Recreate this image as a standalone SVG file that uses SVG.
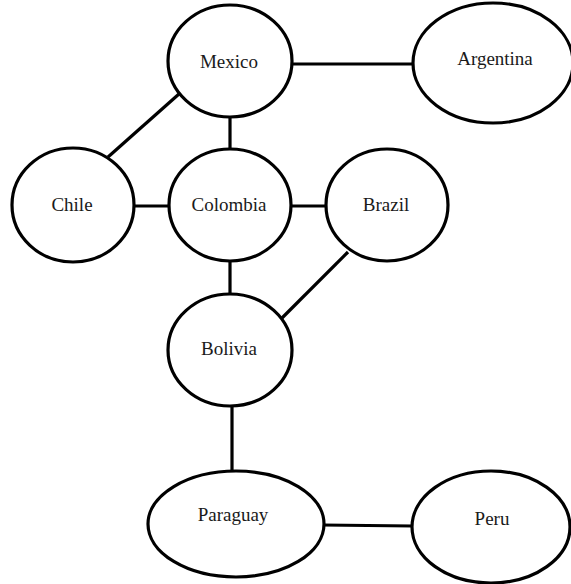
<svg xmlns="http://www.w3.org/2000/svg" width="571" height="584" viewBox="0 0 571 584">
<style>
.n ellipse{fill:#fff;stroke:#000;stroke-width:3.2}
.n text{font-family:'Liberation Serif','Times New Roman',serif;font-size:19px;fill:#1a1a1a;text-anchor:middle}
#edges line{stroke:#000;stroke-width:3.2}
</style>
<rect width="571" height="584" fill="#fff"/>
<g id="edges">
<line x1="292" y1="64" x2="414" y2="64"/>
<line x1="108" y1="157" x2="179" y2="94"/>
<line x1="230" y1="116" x2="230" y2="150"/>
<line x1="133" y1="206" x2="169" y2="206"/>
<line x1="290" y1="206" x2="327" y2="206"/>
<line x1="230" y1="260" x2="230" y2="295"/>
<line x1="348" y1="252" x2="282" y2="318"/>
<line x1="232" y1="405" x2="232" y2="472"/>
<line x1="322" y1="525" x2="413" y2="526"/>
</g>
<g id="mexico" class="n"><ellipse cx="230" cy="61" rx="62" ry="56"/><text x="229" y="68" font-family="Liberation Serif, serif">Mexico</text></g>
<g id="argentina" class="n"><ellipse cx="493" cy="63" rx="80" ry="60"/><text x="495" y="65" font-family="Liberation Serif, serif">Argentina</text></g>
<g id="chile" class="n"><ellipse cx="73" cy="205" rx="61" ry="57"/><text x="72" y="211" font-family="Liberation Serif, serif">Chile</text></g>
<g id="colombia" class="n"><ellipse cx="230" cy="205" rx="61" ry="56"/><text x="229" y="211" font-family="Liberation Serif, serif">Colombia</text></g>
<g id="brazil" class="n"><ellipse cx="387" cy="205" rx="61" ry="56"/><text x="386" y="211" font-family="Liberation Serif, serif">Brazil</text></g>
<g id="bolivia" class="n"><ellipse cx="230" cy="350" rx="62" ry="56"/><text x="229" y="355" font-family="Liberation Serif, serif">Bolivia</text></g>
<g id="paraguay" class="n"><ellipse cx="236" cy="524" rx="88" ry="53"/><text x="233" y="521" font-family="Liberation Serif, serif">Paraguay</text></g>
<g id="peru" class="n"><ellipse cx="491" cy="527" rx="79" ry="56"/><text x="492" y="525" font-family="Liberation Serif, serif">Peru</text></g>
</svg>
